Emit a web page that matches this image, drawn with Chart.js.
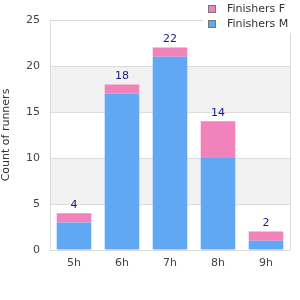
<!DOCTYPE html>
<html><head><meta charset="utf-8">
<script src="https://cdn.jsdelivr.net/npm/chart.js@4"></script>
<style>html,body{margin:0;padding:0;background:#fff}#w{width:300px;height:300px}</style>
</head><body><div id="w"><canvas id="c" width="300" height="300"></canvas></div>
<script>
const categories = ["5h","6h","7h","8h","9h"];
const finishersM = [3,17,21,10,1];
const finishersF = [1,1,1,4,1];
const totals = [4,18,22,14,2];
const yTicks = [0,5,10,15,20,25];
const seriesNames = ["Finishers F","Finishers M"];

const FONT = "'DejaVu Sans', sans-serif";
const BLUE = "rgb(96,168,244)";
const PINK = "rgb(242,130,186)";

const bgPlugin = {
  id: 'bands',
  beforeDraw(chart){
    const {ctx, chartArea:a, scales:{y}} = chart;
    ctx.save();
    ctx.fillStyle = '#f2f2f2';
    for (let i = 0; i < yTicks.length-1; i++) {
      if (i % 2 === 1) {
        const t = y.getPixelForValue(yTicks[i+1]), b = y.getPixelForValue(yTicks[i]);
        ctx.fillRect(a.left, t, a.right-a.left, b-t);
      }
    }
    ctx.restore();
  },
  afterDraw(chart){
    const {ctx, chartArea:a} = chart;
    ctx.save();
    ctx.strokeStyle = '#dcdcdc'; ctx.lineWidth = 1;
    ctx.beginPath(); ctx.moveTo(a.right+0.5, a.top); ctx.lineTo(a.right+0.5, a.bottom); ctx.stroke();
    const meta = chart.getDatasetMeta(1);
    ctx.fillStyle = '#1a1a8c';
    ctx.font = "11px " + FONT;
    ctx.textAlign = 'center'; ctx.textBaseline = 'bottom';
    meta.data.forEach((bar, i) => {
      ctx.fillText(String(totals[i]), bar.x, bar.y - 3);
    });
    ctx.fillStyle = '#fff';
    ctx.fillRect(203, 0, 97, 33);
    const cols = [PINK, BLUE];
    ctx.font = "11px " + FONT;
    ctx.textAlign = 'left'; ctx.textBaseline = 'middle';
    seriesNames.forEach((n, i) => {
      const yy = 5 + i*15;
      ctx.fillStyle = cols[i];
      ctx.fillRect(208, yy, 8, 8);
      ctx.strokeStyle = '#777';
      ctx.strokeRect(208.5, yy+0.5, 7, 7);
      ctx.fillStyle = '#333';
      ctx.fillText(n, 227, yy + 4);
    });
    ctx.restore();
  }
};

new Chart(document.getElementById('c'), {
  type: 'bar',
  data: {
    labels: categories,
    datasets: [
      {label: 'Finishers M', data: finishersM, backgroundColor: BLUE, barPercentage: 0.72, categoryPercentage: 1},
      {label: 'Finishers F', data: finishersF, backgroundColor: PINK, barPercentage: 0.72, categoryPercentage: 1}
    ]
  },
  options: {
    responsive: false,
    animation: false,
    events: [],
    layout: {padding: {top: 20, right: 10, left: 0, bottom: 0}},
    plugins: {legend: {display: false}, tooltip: {enabled: false}},
    scales: {
      x: {
        stacked: true,
        grid: {display: false, drawTicks: false},
        border: {color: '#dcdcdc'},
        ticks: {color: '#444', font: {family: FONT, size: 11}, padding: 7},
        afterFit(s){ s.height = 50; }
      },
      y: {
        stacked: true,
        min: 0, max: 25,
        afterBuildTicks(s){ s.ticks = yTicks.map(v => ({value: v})); },
        grid: {color: '#dcdcdc', drawTicks: false},
        border: {color: '#dcdcdc'},
        ticks: {color: '#444', font: {family: FONT, size: 11}, padding: 10},
        title: {display: true, text: 'Count of runners', color: '#333', font: {family: FONT, size: 11}, padding: {top: 0, bottom: 0}},
        afterFit(s){ s.width = 50; }
      }
    }
  },
  plugins: [bgPlugin]
});
</script></body></html>
